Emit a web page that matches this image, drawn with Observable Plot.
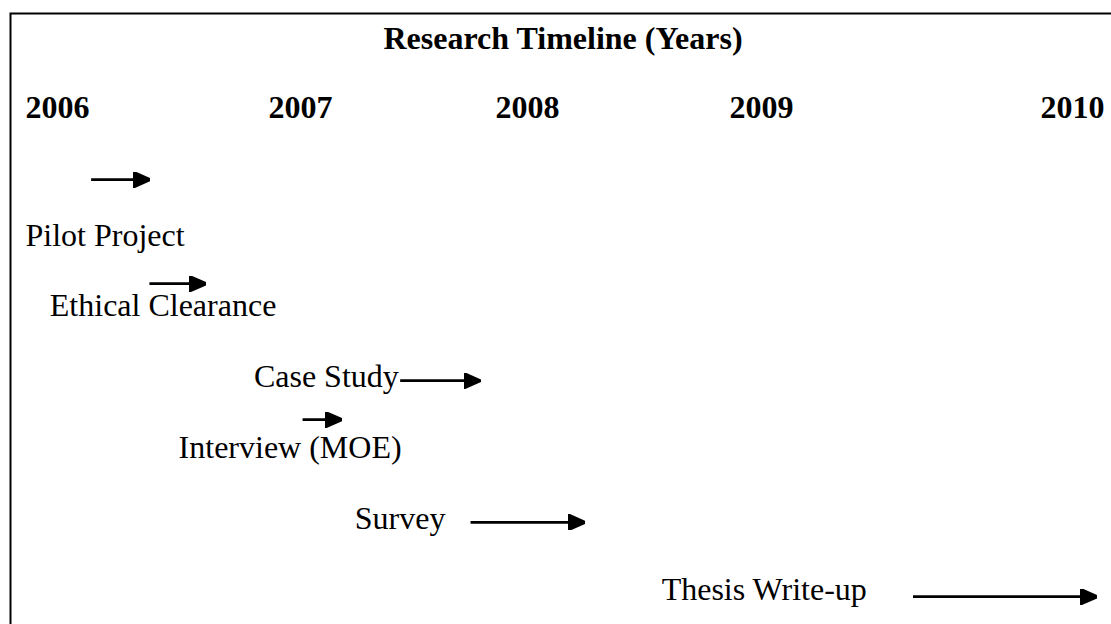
<!DOCTYPE html>
<html>
<head>
<meta charset="utf-8">
<script src="https://cdn.jsdelivr.net/npm/d3@7"></script>
<script src="https://cdn.jsdelivr.net/npm/@observablehq/plot@0.6"></script>
<style>
  html, body { margin: 0; padding: 0; background: #fff; overflow: hidden; }
  #chart svg { display: block; overflow: hidden; }
</style>
</head>
<body>
<div id="chart"></div>
<script>
// ---- data ----
const title = "Research Timeline (Years)";
const years = [2006, 2007, 2008, 2009, 2010];
const tasks = ["Pilot Project", "Ethical Clearance", "Case Study", "Interview (MOE)", "Survey", "Thesis Write-up"];
const taskStart = [2006.27, 2006.51, 2007.58, 2007.15, 2007.89, 2009.59];   // arrow start (year)
const taskEnd   = [2006.51, 2006.74, 2007.93, 2007.32, 2008.38, 2010.18];   // arrow end (year)
const labelYear = [2006.00, 2006.10, 2006.94, 2006.63, 2007.38, 2008.71];   // where each label begins
const labelRow  = [1, 2, 3, 4, 5, 6];
const arrowRow  = [0.07, 1.54, 2.91, 3.46, 4.91, 5.96];
// positions of the year headings on the page (uneven, as typed in the source document)
const yearPixel = [25, 268, 495, 729, 1040];

const table = tasks.map((t, i) => ({
  task: t, start: taskStart[i], end: taskEnd[i],
  labelAt: labelYear[i], row: labelRow[i], arrow: arrowRow[i]
}));

const font = "'Liberation Serif', 'Times New Roman', serif";

function filledArrow(color, context) {
  const doc = (context && context.document) || document;
  const ns = "http://www.w3.org/2000/svg";
  const m = doc.createElementNS(ns, "marker");
  m.setAttribute("viewBox", "-16 -8 17 16");
  m.setAttribute("markerWidth", 17);
  m.setAttribute("markerHeight", 16);
  m.setAttribute("markerUnits", "userSpaceOnUse");
  m.setAttribute("refX", 0);
  m.setAttribute("refY", 0);
  m.setAttribute("orient", "auto");
  const p = doc.createElementNS(ns, "path");
  p.setAttribute("d", "M-16,-7.5L1,0L-16,7.5Z");
  p.setAttribute("fill", color);
  m.appendChild(p);
  return m;
}

const chart = Plot.plot({
  width: 1111,
  height: 624,
  marginTop: 13,
  marginLeft: 10,
  marginRight: -6,
  marginBottom: -6,
  style: {fontFamily: font, background: "#fff", color: "#000", overflow: "hidden"},
  x: {type: "linear", domain: years, range: yearPixel, axis: null},
  y: {type: "linear", domain: [1, 6], range: [245, 599], axis: null},
  marks: [
    Plot.frame({stroke: "#000", strokeWidth: 2}),
    Plot.text([title], {
      frameAnchor: "top", lineAnchor: "bottom", dy: 35, dx: -1,
      fontSize: 32, fontWeight: "bold", fill: "#000"
    }),
    Plot.text(years, {
      x: d => d, text: d => String(d), frameAnchor: "top", lineAnchor: "bottom", dy: 104,
      textAnchor: "start", fontSize: 32, fontWeight: "bold", fill: "#000"
    }),
    Plot.text(table, {
      x: "labelAt", y: "row", text: "task", lineAnchor: "bottom",
      textAnchor: "start", fontSize: 32, fill: "#000"
    }),
    Plot.link(table, {
      x1: "start", x2: "end", y1: "arrow", y2: "arrow",
      stroke: "#000", strokeWidth: 2.75, markerEnd: filledArrow
    })
  ]
});

document.getElementById("chart").appendChild(chart);
</script>
</body>
</html>
